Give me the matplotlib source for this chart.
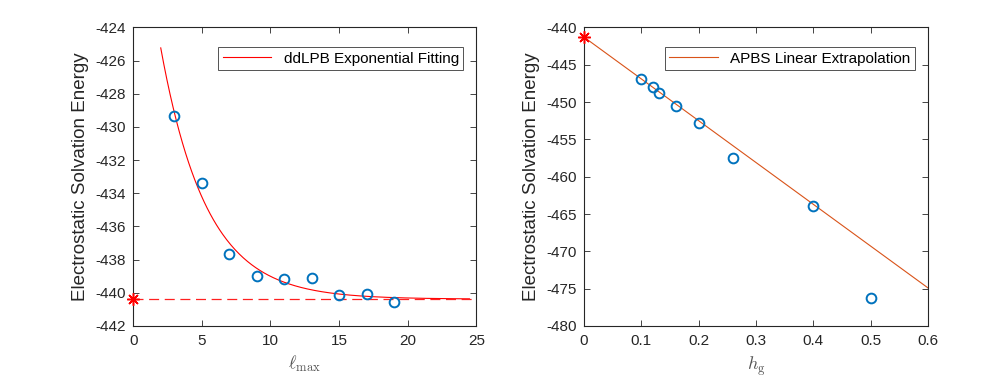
import numpy as np
import matplotlib
matplotlib.use("Agg")
import matplotlib.pyplot as plt

plt.rcParams['font.family'] = ['Liberation Sans', 'DejaVu Sans']
plt.rcParams['mathtext.fontset'] = 'cm'
plt.rcParams['axes.unicode_minus'] = False

# ---- Left panel data (ddLPB) ----
lmax = [3, 5, 7, 9, 11, 13, 15, 17, 19]
ddlpb_energy = [-429.36, -433.4, -437.66, -438.98, -439.18, -439.12, -440.16, -440.08, -440.58]
ddlpb_limit = -440.38
# exponential fit parameters: E(l) = a + b*exp(-c*l)
fit_a, fit_b, fit_c = -440.38, 27.6, 0.30
fit_range = (2.0, 24.5)

# ---- Right panel data (APBS) ----
hg = [0.10, 0.12, 0.13, 0.16, 0.20, 0.26, 0.40, 0.50]
apbs_energy = [-446.88, -447.99, -448.84, -450.54, -452.77, -457.5, -463.97, -476.25]
apbs_intercept = -441.3
apbs_slope = -56.0
lin_range = (0.0, 0.6)

blue = '#0072BD'
orange = '#D95319'
axcol = '#262626'
star = (8, 2, 0)

fig = plt.figure(figsize=(9.97, 3.76), dpi=100)
ax1 = fig.add_axes([0.1337, 0.1330, 0.3440, 0.7940])
ax2 = fig.add_axes([0.5858, 0.1330, 0.3450, 0.7940])

def style(ax):
    for s in ax.spines.values():
        s.set_color(axcol)
        s.set_linewidth(0.8)
    ax.tick_params(direction='in', top=True, right=True, length=4, width=0.6,
                   colors=axcol, labelsize=11)
    ax.tick_params(axis='y', pad=5)
    ax.tick_params(axis='x', pad=6)

# Left
xf = np.linspace(fit_range[0], fit_range[1], 300)
ax1.plot(xf, fit_a + fit_b * np.exp(-fit_c * xf), color='red', lw=0.8,
         label='ddLPB Exponential Fitting')
ax1.plot([0, 25], [ddlpb_limit, ddlpb_limit], color='#ff2020', lw=0.9, ls=(0, (8, 4.5)))
ax1.plot(lmax, ddlpb_energy, 'o', mfc='none', mec=blue, ms=7, mew=1.4)
ax1.plot([0], [ddlpb_limit], marker=star, color='red', ms=9, mew=1.1, ls='none',
         clip_on=False, zorder=5)
ax1.set_xlim(0, 25)
ax1.set_ylim(-442, -424)
ax1.set_xticks(np.arange(0, 26, 5))
ax1.set_yticks(np.arange(-442, -423, 2))
ax1.set_xlabel(r'$\ell_{\max}$', fontsize=13, color='#555555', labelpad=4)
ax1.set_ylabel('Electrostatic Solvation Energy', fontsize=13.5, color=axcol, labelpad=5)
style(ax1)
leg1 = ax1.legend(loc='upper right', fontsize=11, frameon=True, fancybox=False,
                  edgecolor=axcol, handlelength=3.2, borderpad=0.3,
                  bbox_to_anchor=(0.985, 0.96))
leg1.get_frame().set_linewidth(0.7)

# Right
xl = np.linspace(lin_range[0], lin_range[1], 50)
ax2.plot(xl, apbs_intercept + apbs_slope * xl, color=orange, lw=0.8,
         label='APBS Linear Extrapolation')
ax2.plot(hg, apbs_energy, 'o', mfc='none', mec=blue, ms=7, mew=1.4)
ax2.plot([0], [apbs_intercept], marker=star, color='red', ms=9, mew=1.1, ls='none',
         clip_on=False, zorder=5)
ax2.set_xlim(0, 0.6)
ax2.set_ylim(-480, -440)
ax2.set_xticks(np.arange(0, 0.61, 0.1))
ax2.set_xticklabels(['0', '0.1', '0.2', '0.3', '0.4', '0.5', '0.6'])
ax2.set_yticks(np.arange(-480, -439, 5))
ax2.set_xlabel(r'$h_{\rm g}$', fontsize=13, color='#555555', labelpad=4)
ax2.set_ylabel('Electrostatic Solvation Energy', fontsize=13.5, color=axcol, labelpad=5)
style(ax2)
leg2 = ax2.legend(loc='upper right', fontsize=11, frameon=True, fancybox=False,
                  edgecolor=axcol, handlelength=3.2, borderpad=0.3,
                  bbox_to_anchor=(0.985, 0.96))
leg2.get_frame().set_linewidth(0.7)

fig.savefig('out.png', dpi=100)
